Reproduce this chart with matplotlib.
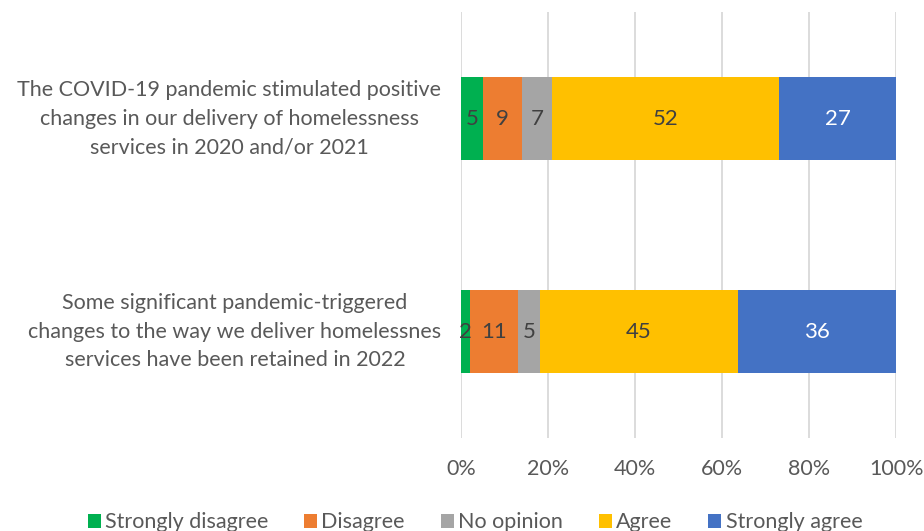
import numpy as np
from matplotlib import pyplot as plt

plt.rcParams['font.family'] = ['Lato', 'DejaVu Sans']

statements = ["The COVID-19 pandemic stimulated positive\nchanges in our delivery of homelessness\nservices in 2020 and/or 2021",
              "Some significant pandemic-triggered\nchanges to the way we deliver homelessnes\nservices have been retained in 2022"]
responses = ['Strongly disagree', 'Disagree', 'No opinion', 'Agree', 'Strongly agree']
strongly_disagree = [5, 2]
disagree = [9, 11]
no_opinion = [7, 5]
agree = [52, 45]
strongly_agree = [27, 36]
colors = ['#00B050', '#ED7D31', '#A5A5A5', '#FFC000', '#4472C4']
text_colors = ['#404040', '#404040', '#404040', '#404040', 'white']

counts = np.array([strongly_disagree, disagree, no_opinion, agree, strongly_agree], dtype=float)
shares = counts / counts.sum(axis=0) * 100

fig = plt.figure(figsize=(9.24, 5.31), dpi=100)
ax = fig.add_axes([0.499, 0.175, 0.471, 0.802])

y = np.arange(len(statements))
left = np.zeros(len(statements))
for i in range(len(responses)):
    ax.barh(y, shares[i], left=left, height=0.39, color=colors[i], label=responses[i], zorder=3)
    for j in range(len(statements)):
        ax.text(left[j] + shares[i][j] / 2, y[j], '%d' % counts[i][j], ha='center', va='center',
                fontsize=16, color=text_colors[i], zorder=4)
    left = left + shares[i]

ax.set_xlim(0, 100)
ax.set_ylim(1.5, -0.5)
ax.set_xticks([0, 20, 40, 60, 80, 100])
ax.set_xticklabels(['0%', '20%', '40%', '60%', '80%', '100%'], fontsize=15.5, color='#595959')
ax.set_yticks([])
ax.grid(axis='x', color='#D9D9D9', linewidth=1.3, zorder=0)
for s in ax.spines.values():
    s.set_visible(False)
ax.tick_params(axis='x', length=0, pad=15)

for j in range(len(statements)):
    ax.text(-0.045, y[j], statements[j], transform=ax.get_yaxis_transform(), ha='right', va='center',
            multialignment='center', fontsize=15.5, color='#595959', linespacing=1.55)

fig.legend(loc='lower center', bbox_to_anchor=(0.514, -0.039), ncol=5, frameon=False, fontsize=15.5,
           handlelength=0.6, handleheight=0.6, handletextpad=0.2, columnspacing=1.67,
           labelcolor='#595959')

plt.savefig('out.png', dpi=100)
